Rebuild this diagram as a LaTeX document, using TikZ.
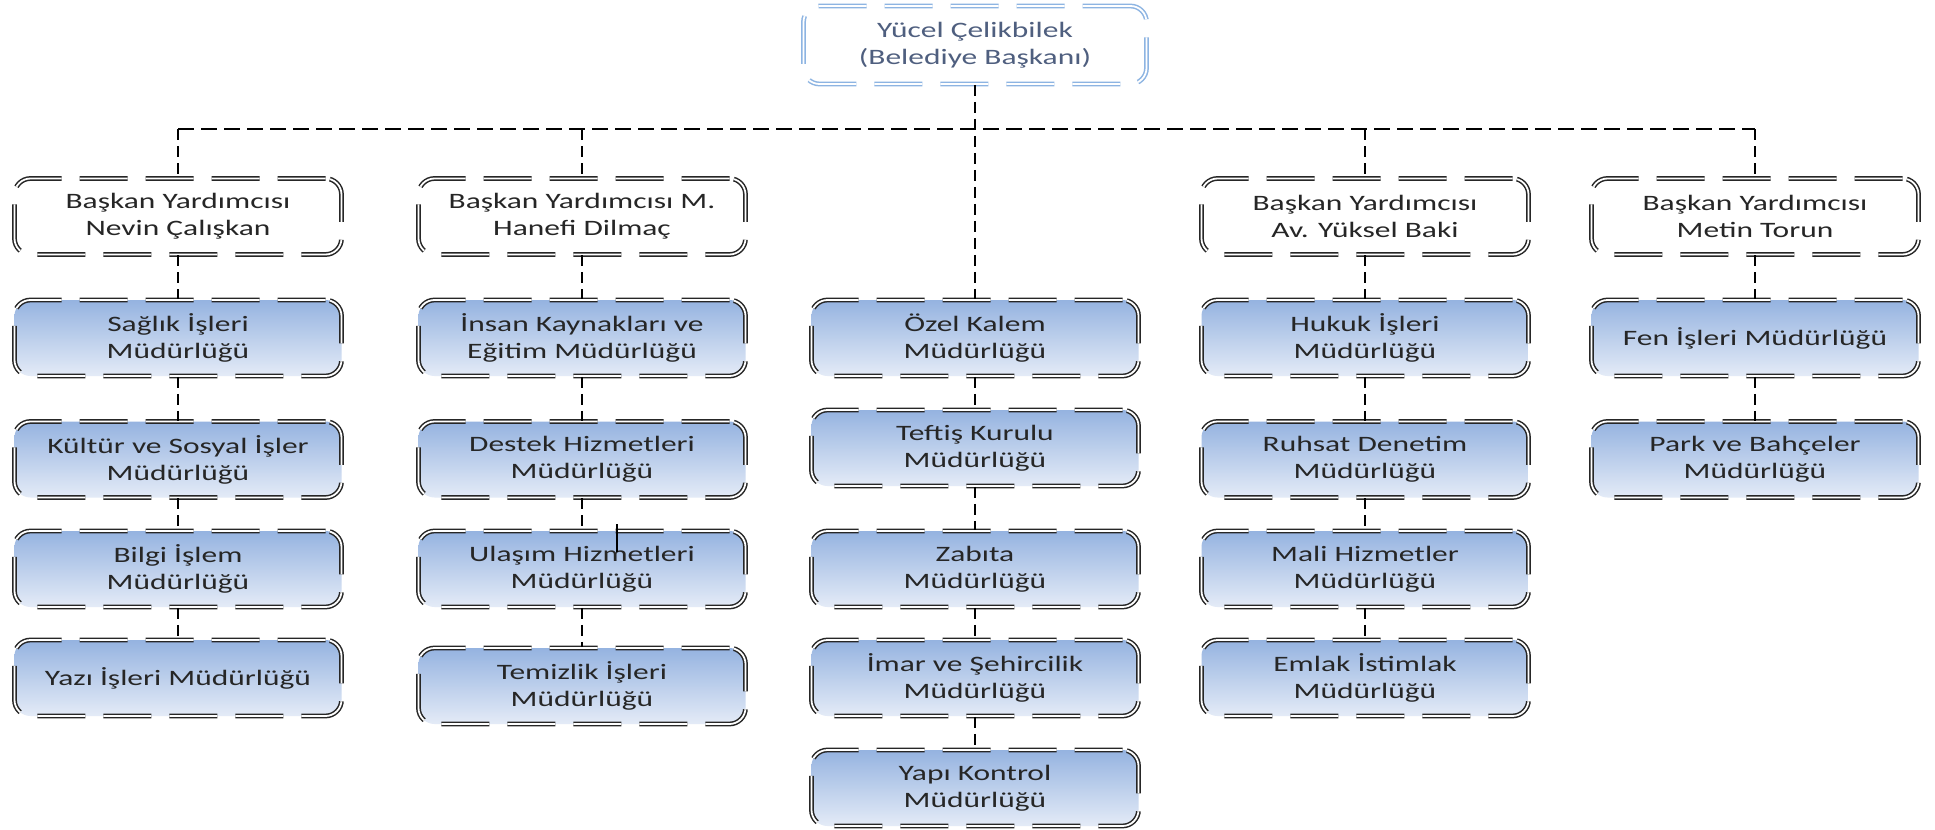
\documentclass[tikz,border=0pt]{standalone}
\usepackage{fontspec}
\setmainfont{Carlito}[FakeStretch=1.43]
\definecolor{bxtop}{RGB}{149,179,224}
\definecolor{bxbot}{RGB}{228,235,247}
\definecolor{txt}{RGB}{38,38,38}
\definecolor{mayorline}{RGB}{141,180,226}
\definecolor{mayortxt}{RGB}{79,95,127}
\tikzset{
  box/.style={rounded corners=8pt, minimum width=163.5pt, minimum height=38pt,
    inner sep=0pt, align=center, text=txt, font=\fontsize{11}{13.5}\selectfont,
    draw=black!85, double=white, double distance=0.9pt, line width=0.75pt,
    dash pattern=on 24pt off 9pt},
  unitbox/.style={box, top color=bxtop, bottom color=bxbot},
  vpbox/.style={box, fill=white},
  mayorbox/.style={box, draw=mayorline, text=mayortxt, minimum width=171.5pt, minimum height=39pt, fill=white},
  conn/.style={draw=black, line width=0.9pt, dash pattern=on 5.5pt off 3pt},
  busline/.style={draw=black, line width=0.9pt, dash pattern=on 8pt off 3.5pt},
  stubline/.style={draw=black, line width=0.7pt}
}
\begin{document}
\begin{tikzpicture}[x=0.5pt,y=-0.5pt]
\fill[white] (0,0) rectangle (1935,830);
\useasboundingbox (0,0) rectangle (1935,830);

\coordinate (p1) at (178,129);
\coordinate (p2) at (582,129);
\coordinate (p4) at (1365,129);
\coordinate (p5) at (1755,129);

\node[mayorbox] (mayor) at (975,45) {Yücel Çelikbilek\\(Belediye Başkanı)};

\node[vpbox] (vp1) at (178,216.5) {Başkan Yardımcısı\\Nevin Çalışkan};
\node[vpbox] (vp2) at (582,216.5) {Başkan Yardımcısı M.\\Hanefi Dilmaç};
\node[vpbox] (vp4) at (1365,216.5) {Başkan Yardımcısı\\Av. Yüksel Baki};
\node[vpbox] (vp5) at (1755,216.5) {Başkan Yardımcısı\\Metin Torun};

\node[unitbox] (sag) at (178,338) {Sağlık İşleri\\Müdürlüğü};
\node[unitbox] (kul) at (178,459.5) {Kültür ve Sosyal İşler\\Müdürlüğü};
\node[unitbox] (bil) at (178,569) {Bilgi İşlem\\Müdürlüğü};
\node[unitbox] (yaz) at (178,678) {Yazı İşleri Müdürlüğü};

\node[unitbox] (ins) at (582,338) {İnsan Kaynakları ve\\Eğitim Müdürlüğü};
\node[unitbox] (des) at (582,459.5) {Destek Hizmetleri\\Müdürlüğü};
\node[unitbox] (ula) at (582,569) {Ulaşım Hizmetleri\\Müdürlüğü};
\node[unitbox] (tem) at (582,686) {Temizlik İşleri\\Müdürlüğü};

\node[unitbox] (oze) at (975,338) {Özel Kalem\\Müdürlüğü};
\node[unitbox] (tef) at (975,448) {Teftiş Kurulu\\Müdürlüğü};
\node[unitbox] (zab) at (975,569) {Zabıta\\Müdürlüğü};
\node[unitbox] (ima) at (975,678) {İmar ve Şehircilik\\Müdürlüğü};
\node[unitbox] (yap) at (975,788) {Yapı Kontrol\\Müdürlüğü};

\node[unitbox] (huk) at (1365,338) {Hukuk İşleri\\Müdürlüğü};
\node[unitbox] (ruh) at (1365,459.5) {Ruhsat Denetim\\Müdürlüğü};
\node[unitbox] (mal) at (1365,569) {Mali Hizmetler\\Müdürlüğü};
\node[unitbox] (eml) at (1365,678) {Emlak İstimlak\\Müdürlüğü};

\node[unitbox] (fen) at (1755,338) {Fen İşleri Müdürlüğü};
\node[unitbox] (par) at (1755,459.5) {Park ve Bahçeler\\Müdürlüğü};

% connectors
\draw[busline] (p1) -- (p5);
\draw[conn] (mayor.south) -- (oze.north);
\draw[conn] (p1) -- (vp1.north);
\draw[conn] (p2) -- (vp2.north);
\draw[conn] (p4) -- (vp4.north);
\draw[conn] (p5) -- (vp5.north);

\draw[conn] (vp1.south) -- (sag.north);
\draw[conn] (sag.south) -- (kul.north);
\draw[conn] (kul.south) -- (bil.north);
\draw[conn] (bil.south) -- (yaz.north);

\draw[conn] (vp2.south) -- (ins.north);
\draw[conn] (ins.south) -- (des.north);
\draw[conn] (des.south) -- (ula.north);
\draw[conn] (ula.south) -- (tem.north);

\draw[conn] (oze.south) -- (tef.north);
\draw[conn] (tef.south) -- (zab.north);
\draw[conn] (zab.south) -- (ima.north);
\draw[conn] (ima.south) -- (yap.north);

\draw[conn] (vp4.south) -- (huk.north);
\draw[conn] (huk.south) -- (ruh.north);
\draw[conn] (ruh.south) -- (mal.north);
\draw[conn] (mal.south) -- (eml.north);

\draw[conn] (vp5.south) -- (fen.north);
\draw[conn] (fen.south) -- (par.north);

\coordinate (stubA) at (617,524);
\coordinate (stubB) at (617,552);
\draw[stubline] (stubA) -- (stubB);
\end{tikzpicture}
\end{document}
